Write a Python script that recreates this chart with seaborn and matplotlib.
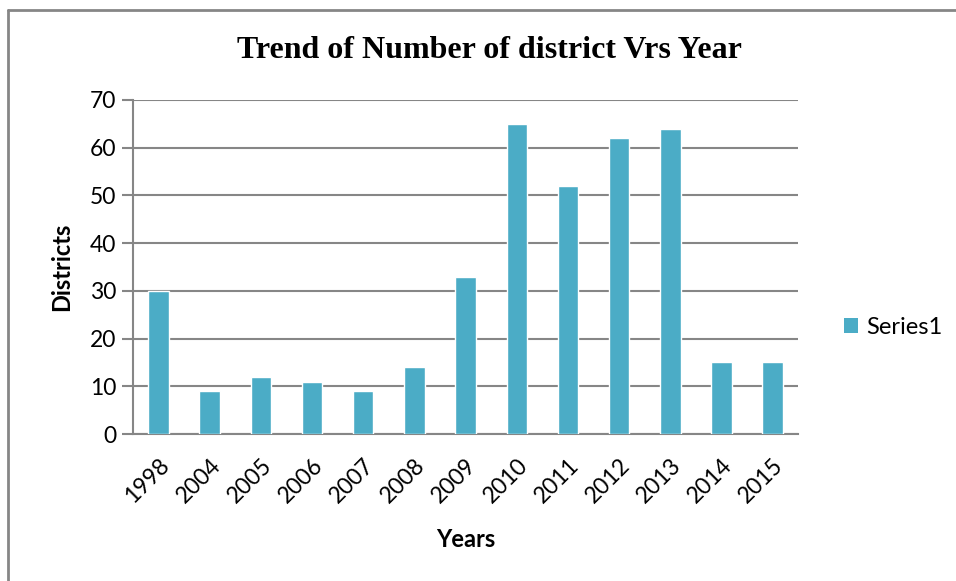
import matplotlib
matplotlib.use("Agg")
import matplotlib.pyplot as plt
import seaborn as sns
import pandas as pd
from matplotlib.lines import Line2D
from matplotlib.patches import Patch

years = ["1998", "2004", "2005", "2006", "2007", "2008", "2009",
         "2010", "2011", "2012", "2013", "2014", "2015"]
districts = [30, 9, 12, 11, 9, 14, 33, 65, 52, 62, 64, 15, 15]
series_name = "Series1"
yticks = [0, 10, 20, 30, 40, 50, 60, 70]

df = pd.DataFrame({"Years": years, "Districts": districts})

sns.set_theme(style="white")
plt.rcParams["font.family"] = ["Lato", "DejaVu Sans"]
plt.rcParams["text.color"] = "black"
plt.rcParams["xtick.color"] = "black"
plt.rcParams["ytick.color"] = "black"
plt.rcParams["axes.labelcolor"] = "black"

fig = plt.figure(figsize=(9.56, 5.81), dpi=100)
ax = fig.add_axes([0.139, 0.253, 0.696, 0.575])

bar_color = "#4BACC6"
sns.barplot(data=df, x="Years", y="Districts", color=bar_color, width=0.4,
            saturation=1, ax=ax, edgecolor="white", linewidth=1, zorder=3)

ax.set_ylim(0, 70)
ax.set_yticks(yticks)
ax.set_xlim(-0.5, len(years) - 0.5)
ax.yaxis.grid(True, color="#868686", linewidth=1.5, zorder=0)
ax.set_axisbelow(True)
for s in ["top", "right"]:
    ax.spines[s].set_visible(False)
for s in ["left", "bottom"]:
    ax.spines[s].set_color("#868686")
    ax.spines[s].set_linewidth(1.5)
ax.tick_params(axis="y", which="major", length=8, width=1.5, color="#868686",
               labelcolor="black", direction="out", labelsize=16.5, pad=4,
               left=True)
ax.tick_params(axis="x", length=0, labelsize=16.5, pad=15, labelcolor="black")
for lbl in ax.get_xticklabels():
    lbl.set_rotation(45)
    lbl.set_ha("right")
    lbl.set_rotation_mode("anchor")

ax.set_xlabel("Years", fontsize=17, fontweight="bold", labelpad=15)
ax.set_ylabel("Districts", fontsize=17, fontweight="bold", labelpad=12)

fig.text(0.512, 0.913, "Trend of Number of district Vrs Year",
         ha="center", va="center", fontsize=23, fontweight="bold",
         family="Liberation Serif", color="black")

handle = Patch(facecolor=bar_color, edgecolor="none")
fig.legend([handle], [series_name], loc="center left",
           bbox_to_anchor=(0.883, 0.437), frameon=False, fontsize=17,
           handlelength=0.6, handleheight=0.6, handletextpad=0.35,
           borderpad=0, borderaxespad=0)

# outer frame lines (top and left) as in reference
fig.add_artist(Line2D([0.0085, 1.0], [0.983, 0.983], color="#868686",
                      linewidth=2, transform=fig.transFigure))
fig.add_artist(Line2D([0.0085, 0.0085], [0.0, 0.983], color="#868686",
                      linewidth=2, transform=fig.transFigure))

fig.savefig("out.png", dpi=100, facecolor="white")
